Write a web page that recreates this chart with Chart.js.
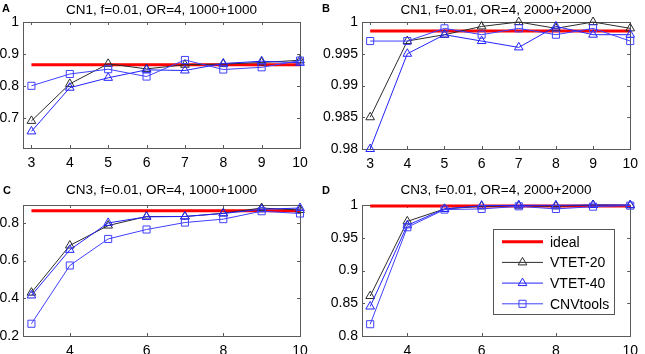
<!DOCTYPE html>
<html>
<head>
<meta charset="utf-8">
<script src="https://cdn.jsdelivr.net/npm/chart.js@4/dist/chart.umd.min.js"></script>
<style>
    body { margin: 0; background: #fff; width: 645px; height: 354px; position: relative; overflow: hidden; }
    canvas { position: absolute; }
</style>
</head>
<body>
<canvas id="chartA" width="322" height="177" style="left:0;top:0"></canvas>
<canvas id="chartB" width="323" height="177" style="left:322px;top:0"></canvas>
<canvas id="chartC" width="322" height="177" style="left:0;top:177px"></canvas>
<canvas id="chartD" width="323" height="177" style="left:322px;top:177px"></canvas>
<script>
// Shared categories (number of ... on the x axis) and series names
const xValues = [3, 4, 5, 6, 7, 8, 9, 10];
const seriesNames = ['ideal', 'VTET-20', 'VTET-40', 'CNVtools'];

// Panel A: CN1, f=0.01, OR=4, 1000+1000
const idealA   = [0.866, 0.866, 0.866, 0.866, 0.866, 0.866, 0.866, 0.866];
const vtet20A  = [0.690, 0.806, 0.869, 0.853, 0.866, 0.868, 0.873, 0.880];
const vtet40A  = [0.657, 0.794, 0.825, 0.850, 0.848, 0.870, 0.877, 0.872];
const cnvA     = [0.800, 0.837, 0.852, 0.829, 0.881, 0.851, 0.858, 0.879];

// Panel B: CN1, f=0.01, OR=4, 2000+2000
const idealB   = [0.9986, 0.9986, 0.9986, 0.9986, 0.9986, 0.9986, 0.9986, 0.9986];
const vtet20B  = [0.985, 0.997, 0.998, 0.9993, 1.000, 0.999, 1.000, 0.999];
const vtet40B  = [0.980, 0.995, 0.998, 0.997, 0.996, 0.9993, 0.998, 0.998];
const cnvB     = [0.997, 0.997, 0.999, 0.998, 0.999, 0.998, 0.999, 0.997];

// Panel C: CN3, f=0.01, OR=4, 1000+1000
const idealC   = [0.865, 0.865, 0.865, 0.865, 0.865, 0.865, 0.865, 0.865];
const vtet20C  = [0.430, 0.680, 0.786, 0.834, 0.834, 0.851, 0.879, 0.868];
const vtet40C  = [0.415, 0.657, 0.800, 0.832, 0.834, 0.850, 0.872, 0.879];
const cnvC     = [0.265, 0.574, 0.715, 0.765, 0.802, 0.820, 0.862, 0.850];

// Panel D: CN3, f=0.01, OR=4, 2000+2000
const idealD   = [0.9985, 0.9985, 0.9985, 0.9985, 0.9985, 0.9985, 0.9985, 0.9985];
const vtet20D  = [0.861, 0.975, 0.994, 0.998, 0.999, 0.998, 1.000, 0.9995];
const vtet40D  = [0.845, 0.969, 0.994, 0.999, 0.9995, 0.9995, 1.000, 1.000];
const cnvD     = [0.818, 0.966, 0.993, 0.994, 0.998, 0.994, 0.9975, 0.999];

// Tick labels
const xTicksAB = [3, 4, 5, 6, 7, 8, 9, 10];
const xTicksCD = [4, 6, 8, 10];
const yTicksA = [0.7, 0.8, 0.9, 1];
const yTicksB = [0.98, 0.985, 0.99, 0.995, 1];
const yTicksC = [0.2, 0.4, 0.6, 0.8];
const yTicksD = [0.8, 0.85, 0.9, 0.95, 1];

const FONT = '"Liberation Sans", Arial, Helvetica, sans-serif';

// line look for each series (ideal, VTET-20, VTET-40, CNVtools)
const seriesStyles = [
    { color: '#ff0000', width: 3, marker: false, order: 4 },
    { color: '#2b2b2b', width: 1, marker: 'triangle', order: 3 },
    { color: '#2323ff', width: 1, marker: 'triangle', order: 2 },
    { color: '#4040ff', width: 1, marker: 'rect', order: 1 }
];

function makeDatasets(series) {
    return series.map((values, i) => {
        const st = seriesStyles[i];
        return {
            label: seriesNames[i],
            data: values.map((v, j) => ({ x: xValues[j], y: v })),
            borderColor: st.color,
            borderWidth: st.width,
            pointStyle: st.marker,
            pointRadius: st.marker ? 5 : 0,
            pointBorderColor: st.color,
            pointBackgroundColor: 'rgba(0,0,0,0)',
            pointBorderWidth: 1,
            tension: 0,
            clip: false,
            order: st.order
        };
    });
}

// box round the plot area with MATLAB style ticks pointing inwards
const matlabFrame = {
    id: 'matlabFrame',
    beforeDatasetsDraw(chart) {
        const { ctx, chartArea: a, scales } = chart;
        const len = 3;
        ctx.save();
        ctx.strokeStyle = '#5a5a5a';
        ctx.lineWidth = 1;
        ctx.strokeRect(Math.round(a.left) + 0.5, Math.round(a.top) + 0.5,
            Math.round(a.right - a.left), Math.round(a.bottom - a.top));
        ctx.beginPath();
        scales.x.ticks.forEach(t => {
            const px = Math.round(scales.x.getPixelForValue(t.value)) + 0.5;
            ctx.moveTo(px, a.bottom); ctx.lineTo(px, a.bottom - len);
            ctx.moveTo(px, a.top); ctx.lineTo(px, a.top + len);
        });
        scales.y.ticks.forEach(t => {
            const py = Math.round(scales.y.getPixelForValue(t.value)) + 0.5;
            ctx.moveTo(a.left, py); ctx.lineTo(a.left + len, py);
            ctx.moveTo(a.right, py); ctx.lineTo(a.right - len, py);
        });
        ctx.stroke();
        ctx.restore();
    }
};

// panel letter and title
const panelText = {
    id: 'panelText',
    afterDraw(chart, args, opts) {
        const { ctx, chartArea: a } = chart;
        ctx.save();
        ctx.fillStyle = '#000';
        ctx.textBaseline = 'alphabetic';
        ctx.font = 'bold 11px ' + FONT;
        ctx.textAlign = 'left';
        ctx.fillText(opts.letter, opts.letterX, opts.letterY);
        ctx.font = '13.5px ' + FONT;
        ctx.textAlign = 'center';
        ctx.fillText(opts.title, (a.left + a.right) / 2, opts.titleY);
        ctx.restore();
    }
};

function drawMarker(ctx, style, x, y, r) {
    ctx.beginPath();
    if (style === 'triangle') {
        ctx.moveTo(x, y - r);
        ctx.lineTo(x + r * Math.sqrt(3) / 2, y + r / 2);
        ctx.lineTo(x - r * Math.sqrt(3) / 2, y + r / 2);
        ctx.closePath();
    } else if (style === 'rect') {
        const s = r * Math.SQRT1_2;
        ctx.rect(x - s, y - s, 2 * s, 2 * s);
    }
    ctx.stroke();
}

// legend box inside panel D
const boxLegend = {
    id: 'boxLegend',
    afterDatasetsDraw(chart, args, opts) {
        if (!opts.show) return;
        const { ctx } = chart;
        const b = opts.box;
        ctx.save();
        ctx.fillStyle = '#fff';
        ctx.fillRect(b.x, b.y, b.w, b.h);
        ctx.strokeStyle = '#555';
        ctx.lineWidth = 1;
        ctx.strokeRect(b.x + 0.5, b.y + 0.5, b.w, b.h);
        ctx.font = '14px ' + FONT;
        ctx.textAlign = 'left';
        ctx.textBaseline = 'alphabetic';
        seriesNames.forEach((name, i) => {
            const st = seriesStyles[i];
            const y = b.y + opts.firstRow + i * opts.rowGap;
            const x0 = b.x + 9, x1 = b.x + 50;
            ctx.strokeStyle = st.color;
            ctx.lineWidth = st.width;
            ctx.beginPath();
            ctx.moveTo(x0, y); ctx.lineTo(x1, y);
            ctx.stroke();
            if (st.marker) {
                ctx.lineWidth = 1;
                drawMarker(ctx, st.marker, (x0 + x1) / 2, y, 5);
            }
            ctx.fillStyle = '#000';
            ctx.fillText(name, b.x + 57, y + 5);
        });
        ctx.restore();
    }
};

function makeChart(id, cfg) {
    const canvas = document.getElementById(id);
    const W = canvas.width, H = canvas.height, p = cfg.plot;
    return new Chart(canvas.getContext('2d'), {
        type: 'line',
        data: { datasets: makeDatasets(cfg.series) },
        plugins: [matlabFrame, panelText, boxLegend],
        options: {
            responsive: false,
            animation: false,
            layout: { autoPadding: false, padding: { left: 0, top: p.top, right: W - p.right, bottom: 0 } },
            scales: {
                x: {
                    type: 'linear', min: 2.78, max: 10,
                    afterFit: s => { s.height = H - p.bottom; },
                    afterBuildTicks: s => { s.ticks = cfg.xTicks.map(v => ({ value: v })); },
                    grid: { display: false, drawTicks: false },
                    border: { display: false },
                    ticks: { color: '#000', font: { family: FONT, size: 14 }, padding: 7, maxRotation: 0, autoSkip: false }
                },
                y: {
                    type: 'linear', min: cfg.yMin, max: cfg.yMax,
                    afterFit: s => { s.width = p.left; },
                    afterBuildTicks: s => { s.ticks = cfg.yTicks.map(v => ({ value: v })); },
                    grid: { display: false, drawTicks: false },
                    border: { display: false },
                    ticks: {
                        color: '#000', font: { family: FONT, size: 14 }, padding: 4, autoSkip: false,
                        callback: v => String(Number(v.toFixed(3)))
                    }
                }
            },
            plugins: {
                legend: { display: false },
                tooltip: { enabled: false },
                panelText: { letter: cfg.letter, title: cfg.title, letterX: cfg.letterX, letterY: cfg.letterY, titleY: cfg.titleY },
                boxLegend: { show: !!cfg.legend, box: { x: 171, y: 52, w: 121, h: 85 }, firstRow: 12.7, rowGap: 20.7 }
            }
        }
    });
}

makeChart('chartA', {
    letter: 'A', title: 'CN1, f=0.01, OR=4, 1000+1000', letterX: 2, letterY: 12, titleY: 13.5,
    series: [idealA, vtet20A, vtet40A, cnvA],
    yMin: 0.605, yMax: 1, yTicks: yTicksA, xTicks: xTicksAB,
    plot: { left: 23, right: 300, top: 22, bottom: 148 }
});
makeChart('chartB', {
    letter: 'B', title: 'CN1, f=0.01, OR=4, 2000+2000', letterX: 0, letterY: 12, titleY: 13.5,
    series: [idealB, vtet20B, vtet40B, cnvB],
    yMin: 0.98, yMax: 1, yTicks: yTicksB, xTicks: xTicksAB,
    plot: { left: 40, right: 316, top: 22, bottom: 149 }
});
makeChart('chartC', {
    letter: 'C', title: 'CN3, f=0.01, OR=4, 1000+1000', letterX: 3, letterY: 16.7, titleY: 16.7,
    series: [idealC, vtet20C, vtet40C, cnvC],
    yMin: 0.2, yMax: 0.895, yTicks: yTicksC, xTicks: xTicksCD,
    plot: { left: 23, right: 300, top: 28, bottom: 159 }
});
makeChart('chartD', {
    letter: 'D', title: 'CN3, f=0.01, OR=4, 2000+2000', letterX: 0, letterY: 16.7, titleY: 16.7,
    series: [idealD, vtet20D, vtet40D, cnvD],
    yMin: 0.8, yMax: 1, yTicks: yTicksD, xTicks: xTicksCD, legend: true,
    plot: { left: 40, right: 315, top: 28, bottom: 159 }
});
</script>
</body>
</html>
